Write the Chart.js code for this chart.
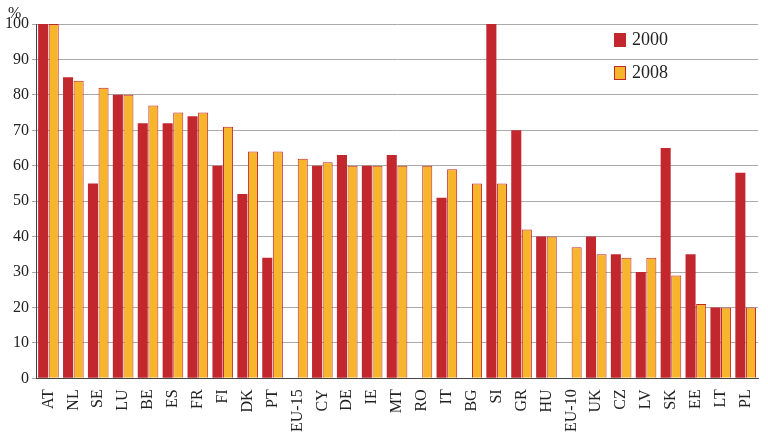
<!DOCTYPE html>
<html><head><meta charset="utf-8">
<script src="https://cdn.jsdelivr.net/npm/chart.js@4"></script>
<style>html,body{margin:0;padding:0;background:#fff}#w{width:768px;height:435px;position:relative}</style>
</head><body><div id="w"><canvas id="c"></canvas></div>
<script>
const categories=["AT","NL","SE","LU","BE","ES","FR","FI","DK","PT","EU-15","CY","DE","IE","MT","RO","IT","BG","SI","GR","HU","EU-10","UK","CZ","LV","SK","EE","LT","PL"];
const values2000=[100,85,55,80,72,72,74,60,52,34,null,60,63,60,63,null,51,null,100,70,40,null,40,35,30,65,35,20,58];
const values2008=[100,84,82,80,77,75,75,71,64,64,62,61,60,60,60,60,59,55,55,42,40,37,35,34,34,29,21,20,20];
const yTicks=[0,10,20,30,40,50,60,70,80,90,100];
const RED='#C1272D', ORANGE='#F7B52C';
Chart.defaults.font.family='"Liberation Serif", serif';
Chart.defaults.color='#222';
const legendPlugin={id:'lg',afterDraw(ch){const c=ch.ctx;c.save();c.font='18px "Liberation Serif", serif';c.fillStyle='#222';c.textBaseline='middle';
const items=[['2000',RED,RED],['2008',ORANGE,RED]];items.forEach((it,i)=>{const y=40+i*33;c.fillStyle=it[1];c.fillRect(614,y-7,12,14);c.strokeStyle=it[2];c.lineWidth=1;c.strokeRect(614.5,y-6.5,11,13);c.fillStyle='#222';c.fillText(it[0],632,y);});
c.font='16px "Liberation Serif", serif';c.fillText('%',8,14);c.restore();}};
new Chart(document.getElementById('c'),{type:'bar',
data:{labels:categories,datasets:[
{label:'2000',data:values2000,backgroundColor:RED,borderColor:RED,borderWidth:0},
{label:'2008',data:values2008,backgroundColor:ORANGE,borderColor:RED,borderWidth:1}]},
options:{responsive:true,maintainAspectRatio:false,animation:false,
layout:{padding:{top:24,right:8,left:2}},
datasets:{bar:{categoryPercentage:0.85,barPercentage:0.95}},
plugins:{legend:{display:false},tooltip:{enabled:false}},
scales:{x:{grid:{display:false},border:{color:'#444'},ticks:{maxRotation:90,minRotation:90,autoSkip:false,font:{size:16},color:'#222'}},
y:{min:0,max:100,afterBuildTicks:a=>{a.ticks=yTicks.map(v=>({value:v}))},grid:{color:'#aaa',drawTicks:true,tickLength:4},border:{color:'#444'},ticks:{font:{size:16},color:'#222'}}}},
plugins:[legendPlugin]});
</script></body></html>
